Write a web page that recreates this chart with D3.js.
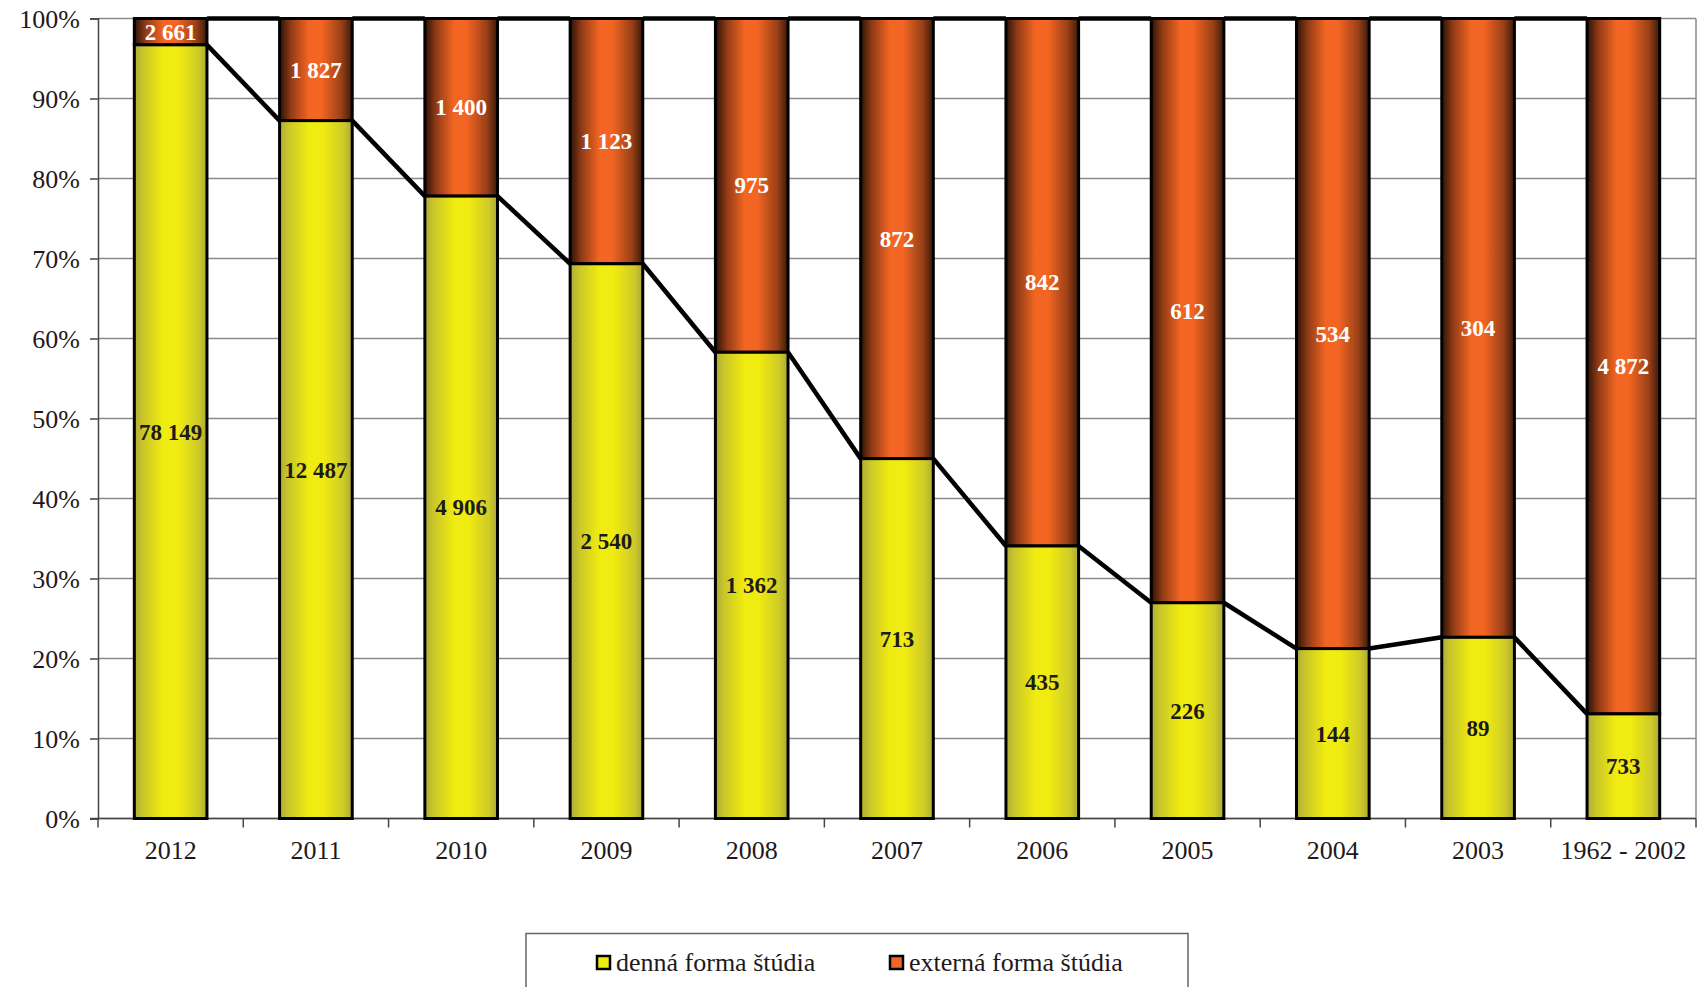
<!DOCTYPE html>
<html>
<head>
<meta charset="utf-8">
<script src="https://cdn.jsdelivr.net/npm/d3@7"></script>
<style>
  html, body { margin: 0; padding: 0; background: #fff; }
  svg { display: block; }
  text { font-family: "Liberation Serif", "Times New Roman", serif; }
</style>
</head>
<body>
<svg id="chart" width="1701" height="987"></svg>
<script>
// ---- data ----
const categories = ["2012", "2011", "2010", "2009", "2008", "2007", "2006", "2005", "2004", "2003", "1962 - 2002"];
const denna = [78149, 12487, 4906, 2540, 1362, 713, 435, 226, 144, 89, 733];
const externa = [2661, 1827, 1400, 1123, 975, 872, 842, 612, 534, 304, 4872];
const seriesNames = ["denná forma štúdia", "externá forma štúdia"];
const yTicks = [0, 0.1, 0.2, 0.3, 0.4, 0.5, 0.6, 0.7, 0.8, 0.9, 1.0];

(function () {
// ---- layout ----
const pL = 98, pR = 1696, pT = 18.5, pB = 818.5;
const svg = d3.select("#chart");

const x = d3.scaleBand().domain(categories).range([pL, pR]).paddingInner(0.5).paddingOuter(0.25);
const y = d3.scaleLinear().domain([0, 1]).range([pB, pT]);
const fmt = n => d3.format(",")(n).replace(/,/g, " ");

const rows = categories.map((c, i) => {
  const t = denna[i] + externa[i];
  return { cat: c, d: denna[i], e: externa[i], pd: denna[i] / t };
});

// gradients
const defs = svg.append("defs");
const gY = defs.append("linearGradient").attr("id", "gradY").attr("x1", "0").attr("x2", "1").attr("y1", "0").attr("y2", "0");
[[0, "#aeac3a"], [0.12, "#c9c62a"], [0.4, "#f0eb10"], [0.6, "#f0eb10"], [0.88, "#cfcb28"], [1, "#aaa838"]]
  .forEach(([o, c]) => gY.append("stop").attr("offset", o).attr("stop-color", c));
const gO = defs.append("linearGradient").attr("id", "gradO").attr("x1", "0").attr("x2", "1").attr("y1", "0").attr("y2", "0");
[[0, "#2a1206"], [0.15, "#8e3a16"], [0.4, "#f26522"], [0.58, "#f26522"], [0.85, "#9a4018"], [1, "#3a1a0a"]]
  .forEach(([o, c]) => gO.append("stop").attr("offset", o).attr("stop-color", c));

// gridlines
svg.append("g").selectAll("line").data(yTicks).join("line")
  .attr("x1", pL).attr("x2", pR)
  .attr("y1", d => y(d)).attr("y2", d => y(d))
  .attr("stroke", "#8a8a8a").attr("stroke-width", 1.5);
// right border of plot
svg.append("line").attr("x1", pR).attr("x2", pR).attr("y1", pT).attr("y2", pB)
  .attr("stroke", "#8a8a8a").attr("stroke-width", 1.5);

// y axis
const yAxis = svg.append("g").attr("transform", `translate(${pL},0)`)
  .call(d3.axisLeft(y).tickValues(yTicks).tickSize(8).tickPadding(10).tickFormat(d3.format(".0%")));
yAxis.attr("font-family", null);
yAxis.select(".domain").attr("stroke", "#444").attr("stroke-width", 1.5);
yAxis.selectAll(".tick line").attr("stroke", "#444").attr("stroke-width", 1.5);
yAxis.selectAll("text").attr("font-size", 26).attr("fill", "#1e1a1b")
  .style("font-family", "'Liberation Serif', serif").attr("dy", "0.34em");

// x axis
const xAxis = svg.append("g").attr("transform", `translate(0,${pB})`)
  .call(d3.axisBottom(x).tickSize(0).tickPadding(22));
xAxis.attr("font-family", null);
xAxis.select(".domain").remove();
xAxis.selectAll("text").attr("font-size", 26).attr("fill", "#1e1a1b").style("font-family", "'Liberation Serif', serif");
svg.append("line").attr("x1", pL - 8).attr("x2", pR).attr("y1", pB).attr("y2", pB)
  .attr("stroke", "#444").attr("stroke-width", 1.5);
const bounds = d3.range(categories.length + 1).map(i => pL + i * x.step());
svg.append("g").selectAll("line").data(bounds).join("line")
  .attr("x1", d => d).attr("x2", d => d).attr("y1", pB).attr("y2", pB + 9)
  .attr("stroke", "#444").attr("stroke-width", 1.5);

// bars
const bw = x.bandwidth();
const bars = svg.append("g");
bars.selectAll("rect.ext").data(rows).join("rect").attr("class", "ext")
  .attr("x", d => x(d.cat)).attr("width", bw)
  .attr("y", y(1)).attr("height", d => y(d.pd) - y(1))
  .attr("fill", "url(#gradO)").attr("stroke", "#000").attr("stroke-width", 3);
bars.selectAll("rect.den").data(rows).join("rect").attr("class", "den")
  .attr("x", d => x(d.cat)).attr("width", bw)
  .attr("y", d => y(d.pd)).attr("height", d => y(0) - y(d.pd))
  .attr("fill", "url(#gradY)").attr("stroke", "#000").attr("stroke-width", 3);

// series lines
const line = d3.line();
const segs = [];
for (let i = 0; i < rows.length - 1; i++) {
  segs.push([[x(rows[i].cat) + bw, y(rows[i].pd)], [x(rows[i + 1].cat), y(rows[i + 1].pd)]]);
  segs.push([[x(rows[i].cat) + bw, y(1)], [x(rows[i + 1].cat), y(1)]]);
}
svg.append("g").selectAll("path").data(segs).join("path")
  .attr("d", d => line(d)).attr("fill", "none").attr("stroke", "#000").attr("stroke-width", 4.5)
  .attr("stroke-linecap", "butt");

// labels
const lab = svg.append("g").attr("font-weight", "bold").attr("font-size", 23).attr("text-anchor", "middle");
lab.selectAll("text.d").data(rows).join("text").attr("class", "d")
  .attr("x", d => x(d.cat) + bw / 2).attr("y", d => (y(0) + y(d.pd)) / 2).attr("dy", "0.35em")
  .attr("fill", "#1e1a1b").text(d => fmt(d.d));
lab.selectAll("text.e").data(rows).join("text").attr("class", "e")
  .attr("x", d => x(d.cat) + bw / 2).attr("y", d => (y(1) + y(d.pd)) / 2).attr("dy", "0.35em")
  .attr("fill", "#fff").text(d => fmt(d.e));

// legend
const lg = svg.append("g");
lg.append("rect").attr("x", 526).attr("y", 933.5).attr("width", 662).attr("height", 100)
  .attr("fill", "#fff").attr("stroke", "#666").attr("stroke-width", 1.5);
const legItems = [
  { name: seriesNames[0], fill: "#f0eb10", mx: 597, tx: 616 },
  { name: seriesNames[1], fill: "#f26522", mx: 890, tx: 909 }
];
legItems.forEach(it => {
  lg.append("rect").attr("x", it.mx).attr("y", 956).attr("width", 13).attr("height", 13)
    .attr("fill", it.fill).attr("stroke", "#000").attr("stroke-width", 2.5);
  lg.append("text").attr("x", it.tx).attr("y", 971).attr("font-size", 26).attr("fill", "#1e1a1b")
    .text(it.name);
});
})();
</script>
</body>
</html>
